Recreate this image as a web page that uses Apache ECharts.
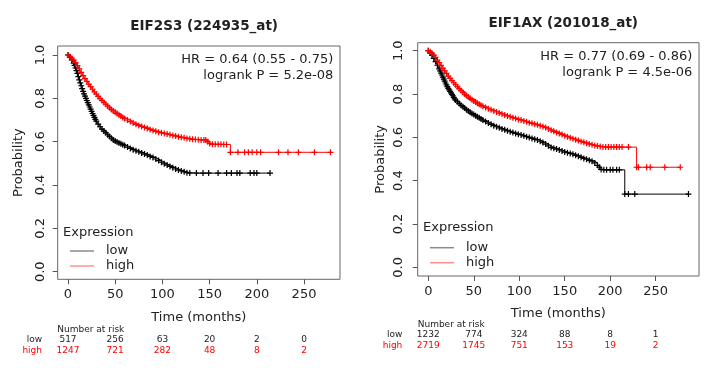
<!DOCTYPE html>
<html><head><meta charset="utf-8">
<script src="https://cdn.jsdelivr.net/npm/echarts@6/dist/echarts.min.js"></script>
<style>html,body{margin:0;padding:0;background:#fff}#c{width:711px;height:371px}</style>
</head><body><div id="c"></div>
<script>
const titles = ['EIF2S3 (224935_at)', 'EIF1AX (201018_at)'];
const hrText = ['HR = 0.64 (0.55 - 0.75)', 'HR = 0.77 (0.69 - 0.86)'];
const pText = ['logrank P = 5.2e-08', 'logrank P = 4.5e-06'];
const timeTicks = [0, 50, 100, 150, 200, 250];
const probTicks = [0, 0.2, 0.4, 0.6, 0.8, 1.0];
const groups = ['low', 'high'];

// Kaplan-Meier step points [months, survival probability]
const leftLow = [[0,1],[2,0.99],[4,0.977],[6,0.962],[7,0.952],[8,0.94],[9,0.928],[10,0.915],[11,0.9],[12,0.885],[13,0.871],[14,0.858],[15,0.845],[16,0.832],[17,0.821],[18,0.81],[19,0.8],[20,0.79],[21,0.78],[22,0.77],[23,0.76],[24,0.75],[25,0.74],[26,0.73],[27,0.721],[28,0.712],[29,0.703],[30,0.695],[32,0.681],[34,0.669],[36,0.658],[38,0.649],[40,0.641],[42,0.632],[44,0.624],[46,0.616],[48,0.608],[50,0.603],[52,0.598],[54,0.594],[56,0.59],[58,0.586],[60,0.582],[63,0.575],[66,0.569],[69,0.563],[72,0.558],[75,0.553],[78,0.548],[81,0.543],[84,0.538],[87,0.532],[90,0.527],[93,0.52],[96,0.513],[99,0.505],[102,0.498],[105,0.492],[108,0.486],[111,0.48],[114,0.474],[117,0.469],[120,0.465],[123,0.461],[126,0.457],[129,0.455],[136,0.455],[143,0.455],[149,0.455],[159,0.455],[168,0.455],[173,0.455],[179,0.455],[182,0.455],[193,0.455],[197,0.455],[200,0.455],[214,0.455]];
const leftHigh = [[0,1],[2,0.993],[4,0.985],[6,0.976],[8,0.965],[10,0.951],[12,0.936],[14,0.92],[16,0.905],[18,0.891],[20,0.878],[22,0.866],[24,0.854],[26,0.842],[28,0.83],[30,0.819],[32,0.809],[34,0.799],[36,0.79],[38,0.781],[40,0.773],[42,0.764],[44,0.756],[46,0.749],[48,0.742],[50,0.736],[52,0.73],[54,0.724],[56,0.718],[58,0.712],[60,0.707],[63,0.7],[66,0.693],[69,0.686],[72,0.68],[75,0.675],[78,0.67],[81,0.666],[84,0.661],[87,0.656],[90,0.652],[93,0.648],[96,0.644],[99,0.641],[102,0.638],[105,0.635],[108,0.632],[111,0.629],[114,0.626],[117,0.623],[120,0.62],[123,0.618],[126,0.615],[129,0.613],[132,0.611],[135,0.61],[138,0.609],[141,0.608],[144,0.608],[146,0.608],[148,0.6],[150,0.592],[153,0.588],[156,0.588],[159,0.588],[162,0.588],[165,0.587],[168,0.587],[172,0.551],[180,0.551],[187,0.551],[191,0.551],[195,0.551],[200,0.551],[204,0.551],[223,0.551],[233,0.551],[244,0.551],[261,0.551],[278,0.551]];
const rightLow = [[0,1],[2,0.99],[4,0.979],[6,0.965],[8,0.95],[10,0.933],[12,0.916],[13,0.907],[14,0.897],[15,0.888],[16,0.878],[17,0.869],[18,0.86],[19,0.851],[20,0.842],[21,0.834],[22,0.826],[23,0.819],[24,0.812],[25,0.805],[26,0.798],[27,0.792],[28,0.785],[29,0.778],[30,0.772],[32,0.764],[34,0.756],[36,0.748],[38,0.741],[40,0.735],[42,0.728],[44,0.722],[46,0.716],[48,0.71],[50,0.705],[52,0.7],[54,0.695],[56,0.69],[58,0.685],[60,0.68],[63,0.673],[66,0.666],[69,0.66],[72,0.654],[75,0.649],[78,0.644],[81,0.639],[84,0.635],[87,0.63],[90,0.626],[93,0.622],[96,0.618],[99,0.614],[102,0.611],[105,0.607],[108,0.603],[111,0.599],[114,0.595],[117,0.591],[120,0.588],[123,0.582],[126,0.576],[129,0.569],[132,0.561],[135,0.553],[138,0.55],[141,0.546],[144,0.542],[147,0.537],[150,0.532],[153,0.529],[156,0.526],[159,0.522],[162,0.517],[165,0.513],[168,0.508],[171,0.503],[174,0.499],[177,0.494],[180,0.49],[183,0.482],[186,0.471],[188,0.462],[190,0.452],[193,0.45],[196,0.45],[200,0.45],[203,0.45],[207,0.45],[210,0.45],[216,0.338],[220,0.338],[227,0.338],[286,0.338]];
const rightHigh = [[0,1],[2,0.995],[4,0.988],[6,0.98],[8,0.969],[10,0.957],[12,0.945],[14,0.932],[16,0.92],[18,0.907],[20,0.895],[22,0.883],[24,0.872],[26,0.862],[28,0.852],[30,0.843],[32,0.834],[34,0.825],[36,0.816],[38,0.808],[40,0.8],[42,0.793],[44,0.786],[46,0.78],[48,0.774],[50,0.768],[52,0.763],[54,0.758],[56,0.753],[58,0.748],[60,0.744],[63,0.738],[66,0.732],[69,0.727],[72,0.722],[75,0.717],[78,0.712],[81,0.708],[84,0.703],[87,0.699],[90,0.695],[93,0.691],[96,0.687],[99,0.683],[102,0.68],[105,0.676],[108,0.672],[111,0.668],[114,0.665],[117,0.661],[120,0.658],[123,0.654],[126,0.65],[129,0.645],[132,0.639],[135,0.633],[138,0.628],[141,0.623],[144,0.618],[147,0.613],[150,0.608],[153,0.603],[156,0.598],[159,0.594],[162,0.589],[165,0.585],[168,0.581],[171,0.577],[174,0.573],[177,0.569],[180,0.566],[183,0.563],[186,0.56],[189,0.558],[192,0.556],[195,0.555],[198,0.555],[201,0.555],[204,0.555],[207,0.555],[210,0.555],[213,0.555],[220,0.555],[229,0.462],[231,0.462],[240,0.462],[244,0.462],[260,0.462],[277,0.462]];

// Number at risk
const riskLeftLow = [517, 256, 63, 20, 2, 0];
const riskLeftHigh = [1247, 721, 282, 48, 8, 2];
const riskRightLow = [1232, 774, 324, 88, 8, 1];
const riskRightHigh = [2719, 1745, 751, 153, 19, 2];

const FONT = 'DejaVu Sans';
const TXT = '#222';
const PLUS = 'path://M4,0H6V4H10V6H6V10H4V6H0V4H4Z';

const panels = [
  {left: 57.7, top: 46, width: 282.3, height: 233.3, xmin: -10.9, xmax: 288.1, ymin: -0.035, ymax: 1.0415, ylm: 11, xlm: 9, yng: 33, xng: 32},
  {left: 417.7, top: 42.7, width: 281.3, height: 233.3, xmin: -11.65, xmax: 297.6, ymin: -0.04, ymax: 1.037, ylm: 13, xlm: 9, yng: 31, xng: 31}
];

const chart = echarts.init(document.getElementById('c'), null, {renderer: 'canvas'});

function ser(name, data, color, idx) {
  return {
    name: name, type: 'line', step: 'end', xAxisIndex: idx, yAxisIndex: idx,
    data: data, showSymbol: true, symbol: PLUS, symbolSize: 6,
    lineStyle: {color: color, width: 1}, itemStyle: {color: color},
    animation: false, silent: true, clip: true
  };
}

const option = {
  backgroundColor: '#fff',
  animation: false,
  textStyle: {fontFamily: FONT},
  title: titles.map((t, i) => ({
    text: t, left: i === 0 ? 199.2 : 558.3, top: i === 0 ? 14 : 11, textAlign: 'center',
    textStyle: {fontFamily: FONT, fontWeight: 'bold', fontSize: 13.5, color: TXT}
  })),
  grid: panels.map(p => ({left: p.left, top: p.top, width: p.width, height: p.height, show: true, borderColor: '#666', borderWidth: 1, backgroundColor: '#fff'})),
  xAxis: panels.map((p, i) => ({
    type: 'value', gridIndex: i, min: p.xmin, max: p.xmax,
    name: 'Time (months)', nameLocation: 'middle', nameGap: p.xng,
    nameTextStyle: {fontFamily: FONT, fontSize: 13, color: TXT},
    axisLine: {show: false, onZero: false}, splitLine: {show: false},
    axisTick: {show: true, length: 5, lineStyle: {color: '#555'}, customValues: timeTicks},
    axisLabel: {fontFamily: FONT, fontSize: 13, color: TXT, margin: p.xlm, customValues: timeTicks}
  })),
  yAxis: panels.map((p, i) => ({
    type: 'value', gridIndex: i, min: p.ymin, max: p.ymax,
    name: 'Probability', nameLocation: 'middle', nameGap: p.yng, nameRotate: 90,
    nameTextStyle: {fontFamily: FONT, fontSize: 13, color: TXT},
    axisLine: {show: false, onZero: false}, splitLine: {show: false},
    axisTick: {show: true, length: 5, lineStyle: {color: '#555'}, customValues: probTicks},
    axisLabel: {fontFamily: FONT, fontSize: 13, color: TXT, margin: p.ylm, rotate: 90,
      customValues: probTicks, formatter: v => v.toFixed(1)}
  })),
  legend: [0, 1].map(i => ({
    orient: 'vertical', left: i === 0 ? 70 : 430, top: i === 0 ? 243.5 : 240.2,
    padding: 0, itemGap: 0, itemWidth: 24, itemHeight: 1.5, icon: 'rect',
    selectedMode: false,
    textStyle: {fontFamily: FONT, fontSize: 13, color: TXT, lineHeight: 15, padding: [0, 0, 0, 7]},
    data: [
      {name: groups[0], itemStyle: {color: '#8a8a8a'}},
      {name: groups[1], itemStyle: {color: '#ff9090'}}
    ]
  })),
  series: [
    ser(groups[0], leftLow, '#000', 0),
    ser(groups[1], leftHigh, '#ff0000', 0),
    ser(groups[0], rightLow, '#000', 1),
    ser(groups[1], rightHigh, '#ff0000', 1)
  ]
};
chart.setOption(option);

// annotations and number-at-risk table placed from axis scales
const g = [];
const hrPos = [{x: 333.3, y1: 60, y2: 76}, {x: 692.3, y1: 56.7, y2: 72.7}];
const exprPos = [{x: 63, y: 232.7}, {x: 423, y: 228}];
const riskRows = [
  {title: 329.3, low: 340, high: 350.7, lab: 42, left: 57.3, lowV: riskLeftLow, highV: riskLeftHigh},
  {title: 325, low: 335, high: 345.7, lab: 402.3, left: 417.7, lowV: riskRightLow, highV: riskRightHigh}
];
[0, 1].forEach(i => {
  g.push({type: 'text', x: hrPos[i].x, y: hrPos[i].y1, style: {text: hrText[i], font: '13px "' + FONT + '"', fill: TXT, align: 'right', verticalAlign: 'middle'}});
  g.push({type: 'text', x: hrPos[i].x, y: hrPos[i].y2, style: {text: pText[i], font: '13px "' + FONT + '"', fill: TXT, align: 'right', verticalAlign: 'middle'}});
  g.push({type: 'text', x: exprPos[i].x, y: exprPos[i].y, style: {text: 'Expression', font: '13px "' + FONT + '"', fill: TXT, align: 'left', verticalAlign: 'middle'}});
  const r = riskRows[i];
  g.push({type: 'text', x: r.left, y: r.title, style: {text: 'Number at risk', font: '9px "' + FONT + '"', fill: TXT, align: 'left', verticalAlign: 'middle'}});
  g.push({type: 'text', x: r.lab, y: r.low, style: {text: 'low', font: '9px "' + FONT + '"', fill: TXT, align: 'right', verticalAlign: 'middle'}});
  g.push({type: 'text', x: r.lab, y: r.high, style: {text: 'high', font: '9px "' + FONT + '"', fill: '#ff0000', align: 'right', verticalAlign: 'middle'}});
  timeTicks.forEach((t, k) => {
    const px = chart.convertToPixel({xAxisIndex: i}, t);
    g.push({type: 'text', x: px, y: r.low, style: {text: String(r.lowV[k]), font: '9px "' + FONT + '"', fill: TXT, align: 'center', verticalAlign: 'middle'}});
    g.push({type: 'text', x: px, y: r.high, style: {text: String(r.highV[k]), font: '9px "' + FONT + '"', fill: '#ff0000', align: 'center', verticalAlign: 'middle'}});
  });
});
chart.setOption({graphic: g});
</script>
</body></html>
